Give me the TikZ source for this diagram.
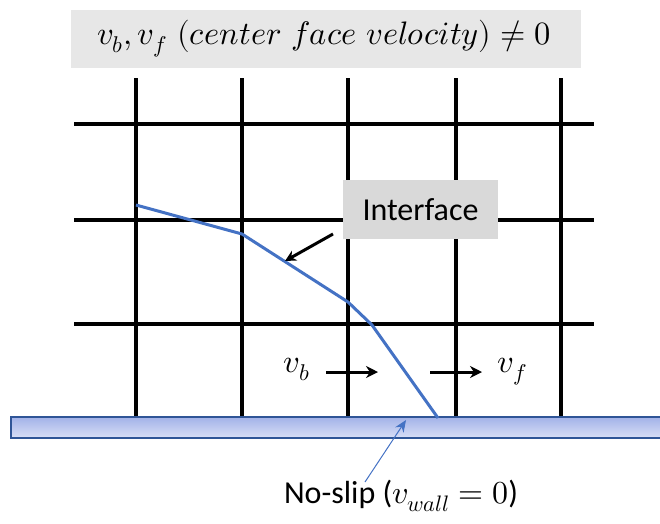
\documentclass[tikz,border=0pt]{standalone}
\usepackage{fontspec}
\usepackage{unicode-math}
\setmathfont{Latin Modern Math}
\setsansfont{Carlito}
\usetikzlibrary{arrows.meta}
\definecolor{topgray}{HTML}{E7E7E7}
\definecolor{boxgray}{HTML}{D9D9D9}
\definecolor{ifblue}{HTML}{4472C4}
\definecolor{walltop}{HTML}{A2B2E8}
\definecolor{wallbot}{HTML}{D9DFF6}
\definecolor{wallborder}{HTML}{2F5597}
\tikzset{
  gridline/.style={line width=3.5pt, black},
  iface/.style={line width=3pt, ifblue, line join=round},
  flowarrow/.style={line width=3pt, -{Stealth[length=12pt,width=12pt]}},
  bigmath/.style={font=\fontsize{32.5}{38}\selectfont, inner sep=0pt},
  sanslabel/.style={font=\sffamily\fontsize{32}{38}\selectfont, inner sep=0pt},
}
\begin{document}
\begin{tikzpicture}[x=1pt,y=-1pt]
\useasboundingbox (0,0) rectangle (660,523);
% title box
\fill[topgray] (71,10) rectangle (581,68);
\node[bigmath] (title) at (324,39) {$v_b, v_f\ (center\ face\ velocity) \neq 0$};
% grid
\foreach \x in {136,242,348,456,561} \draw[gridline] (\x,78) -- (\x,417);
\foreach \y in {124,220,324} \draw[gridline] (74,\y) -- (594,\y);
% wall
\shade[top color=walltop, bottom color=wallbot] (11,417) rectangle (664,438);
\draw[wallborder, line width=2pt] (11,417) rectangle (664,438);
% interface curve
\draw[iface] (136,205) -- (242,234) -- (348,302) -- (372,325) -- (438,418);
\coordinate (ifpt) at (285,261);
% interface label
\node[sanslabel, fill=boxgray, minimum width=155pt, minimum height=59pt] (iface) at (420.5,209.5) {Interface};
\draw[line width=3pt, -{Stealth[length=11pt,width=11pt]}] (333,234) -- (ifpt);
% face velocities
\node[bigmath] (vb) at (297,369) {$v_b$};
\node[bigmath] (vf) at (512,372) {$v_f$};
\coordinate (vbs) at (326,372); \coordinate (vbe) at (378,372);
\coordinate (vfs) at (430,372); \coordinate (vfe) at (482,372);
\draw[flowarrow] (vbs) -- (vbe);
\draw[flowarrow] (vfs) -- (vfe);
% no-slip label
\node[sanslabel] (noslip) at (401,496) {No-slip ($v_{wall} = 0$)};
\coordinate (wallpt) at (406,420);
\draw[ifblue, line width=1pt, -{Stealth[length=12pt,width=10pt]}] (365,482) -- (wallpt);
\end{tikzpicture}
\end{document}
